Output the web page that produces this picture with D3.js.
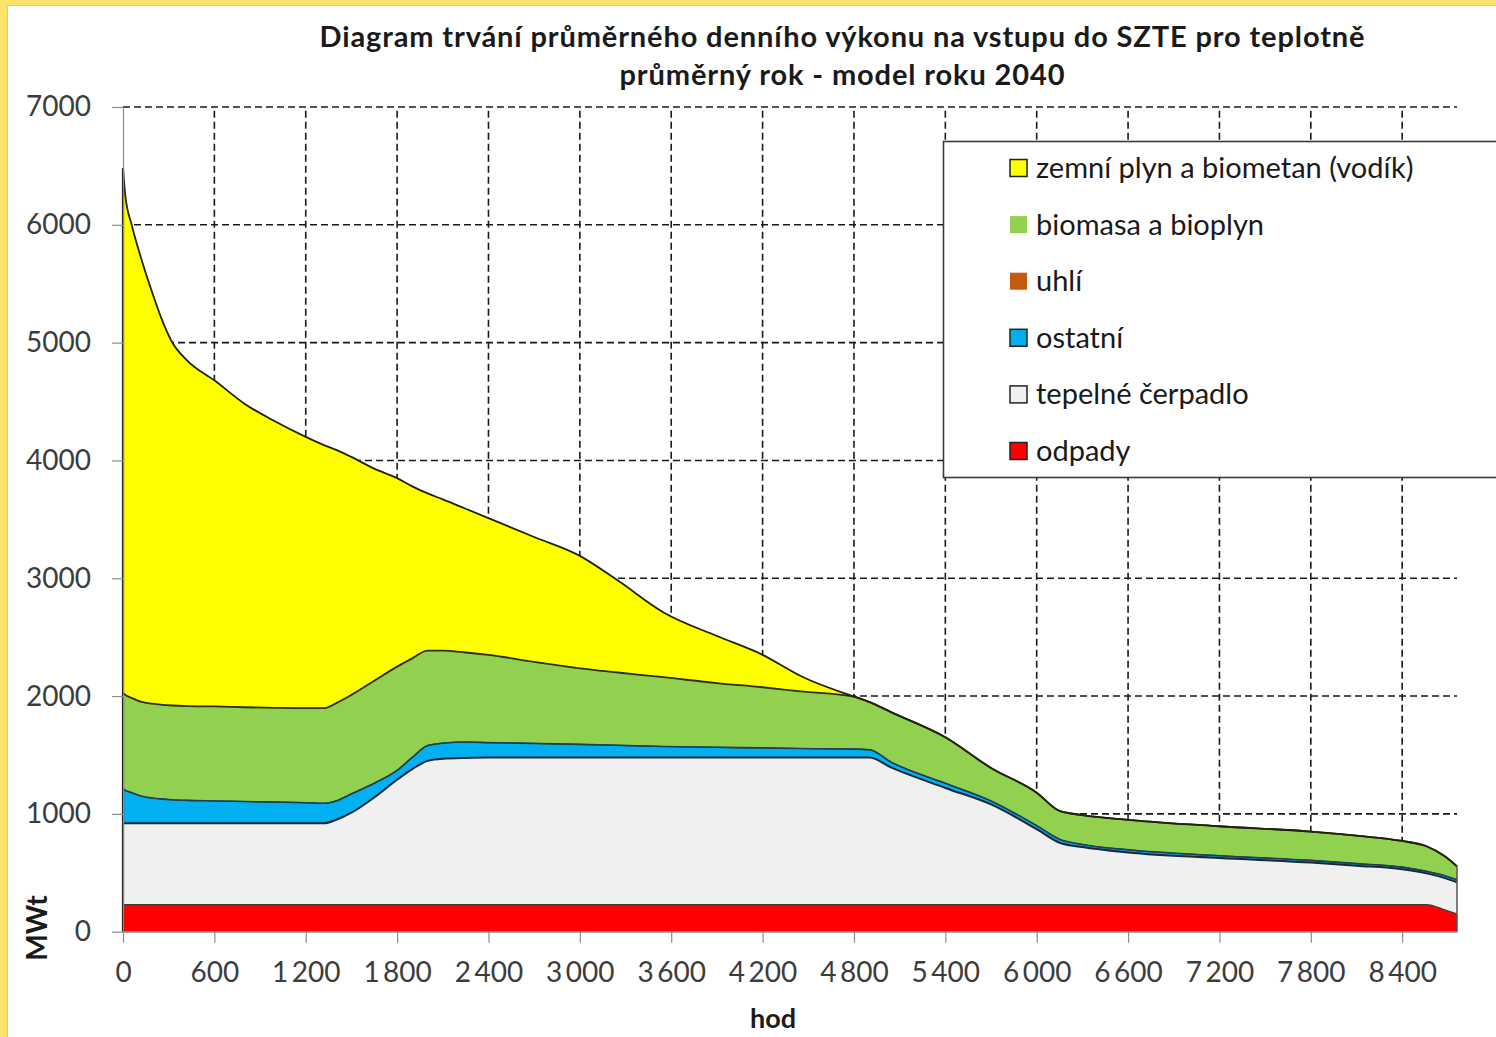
<!DOCTYPE html>
<html>
  <head>
    <meta charset="utf-8">
    <title>Diagram trvání výkonu SZTE 2040</title>
    <style>
      body { margin: 0; background: #fff; }
      svg text { font-family: Lato, "Open Sans", sans-serif; }
    </style>
  </head>
  <body>
    <svg width="1496" height="1037"></svg>

    <script src="https://d3js.org/d3.v7.min.js"></script>
    <script>

      // hodiny (osa x) a výkony jednotlivých zdrojů v MWt
      var hours = [0, 15, 57, 123, 188, 260, 320, 420, 600, 800, 1000, 1200, 1320, 1400, 1500, 1650, 1800, 1900, 2000, 2100,
        2250, 2400, 2700, 3000, 3250, 3550, 3900, 4200, 4450, 4800, 4900, 5050, 5400, 5700, 6000, 6150, 6300, 6600,
        7200, 7800, 8100, 8400, 8560, 8680, 8760];

      var odpady = [230, 230, 230, 230, 230, 230, 230, 230, 230, 230, 230, 230, 230, 230, 230, 230, 230, 230, 230, 230,
        230, 230, 230, 230, 230, 230, 230, 230, 230, 230, 230, 230, 230, 230, 230, 230, 230, 230,
        230, 230, 230, 230, 230, 185, 150];

      var tepelneCerpadlo = [690, 690, 690, 690, 690, 690, 690, 690, 690, 690, 690, 690, 690, 720, 780, 910, 1060, 1150, 1220, 1238,
        1245, 1248, 1248, 1248, 1248, 1248, 1248, 1248, 1248, 1248, 1248, 1160, 990, 850, 640, 525, 488, 442,
        395, 357, 330, 300, 265, 270, 270];

      var ostatni = [295, 280, 260, 230, 215, 205, 200, 195, 190, 185, 180, 175, 170, 160, 160, 120, 80, 100, 130, 132,
        135, 127, 120, 112, 104, 94, 87, 82, 77, 72, 67, 45, 40, 30, 30, 30, 22, 23,
        20, 18, 18, 18, 17, 20, 20];

      var uhli = [0, 0, 0, 0, 0, 0, 0, 0, 0, 0, 0, 0, 0, 0, 0, 0, 0, 0, 0, 0,
        0, 0, 0, 0, 0, 0, 0, 0, 0, 0, 0, 0, 0, 0, 0, 0, 0, 0,
        0, 0, 0, 0, 0, 0, 0];

      var biomasa = [815, 810, 805, 800, 800, 800, 800, 800, 802, 800, 800, 802, 807, 830, 840, 870, 880, 840, 805, 785,
        760, 745, 692, 645, 618, 588, 545, 515, 485, 445, 405, 425, 390, 280, 280, 240, 250, 255,
        250, 245, 237, 222, 213, 165, 115];

      var zemniPlyn = [4450, 4240, 4015, 3750, 3505, 3255, 3090, 2935, 2768, 2575, 2430, 2303, 2233, 2150, 2020, 1800, 1600, 1460, 1335, 1285,
        1220, 1160, 1060, 955, 780, 550, 400, 275, 130, 0, 0, 0, 0, 0, 0, 0, 0, 0,
        0, 0, 0, 0, 0, 0, 0];

      // pořadí vrstev zdola nahoru
      var keys = ["odpady", "tepelne", "ostatni", "uhli", "biomasa", "plyn"];
      var labels = {
        plyn: "zemní plyn a biometan (vodík)",
        biomasa: "biomasa a bioplyn",
        uhli: "uhlí",
        ostatni: "ostatní",
        tepelne: "tepelné čerpadlo",
        odpady: "odpady"
      };
      var colors = {
        plyn: "#ffff00",
        biomasa: "#92d050",
        uhli: "#c55a11",
        ostatni: "#00b0f0",
        tepelne: "#f0f0f0",
        odpady: "#ff0000"
      };

      var xTicks = [0, 600, 1200, 1800, 2400, 3000, 3600, 4200, 4800, 5400, 6000, 6600, 7200, 7800, 8400];
      var yTicks = [0, 1000, 2000, 3000, 4000, 5000, 6000, 7000];

      var data = hours.map(function (h, i) {
        return {
          hod: h,
          odpady: odpady[i],
          tepelne: tepelneCerpadlo[i],
          ostatni: ostatni[i],
          uhli: uhli[i],
          biomasa: biomasa[i],
          plyn: zemniPlyn[i]
        };
      });

      var series = d3.stack().keys(keys)(data);

      var svg = d3.select("svg"),
        width = +svg.attr("width"),
        height = +svg.attr("height");

      var x = d3.scaleLinear()
        .domain([0, 8760])
        .range([123, 1457]);

      var y = d3.scaleLinear()
        .domain([0, 7000])
        .range([931.7, 107]);

      // rámeček obrázku
      svg.append("rect")
        .attr("width", width).attr("height", height)
        .attr("fill", "#fff");
      svg.append("rect")
        .attr("x", 0).attr("y", 0).attr("width", 7).attr("height", height)
        .attr("fill", "#fde26c");
      svg.append("rect")
        .attr("x", 0).attr("y", 0).attr("width", width).attr("height", 5)
        .attr("fill", "#fde26c");
      svg.append("path")
        .attr("d", "M7.5," + height + "V5.5H" + width)
        .attr("fill", "none")
        .attr("stroke", "#c8c8c8")
        .attr("stroke-width", 1);

      // mřížka
      var grid = svg.append("g")
        .attr("stroke", "#1a1a1a")
        .attr("stroke-width", 1.6)
        .attr("stroke-dasharray", "7,4");

      grid.selectAll("line.h")
        .data(yTicks.filter(function (d) { return d > 0; }))
        .enter().append("line")
        .attr("class", "h")
        .attr("x1", x(0)).attr("x2", x(8760))
        .attr("y1", function (d) { return y(d); })
        .attr("y2", function (d) { return y(d); });

      grid.selectAll("line.v")
        .data(xTicks.filter(function (d) { return d > 0; }))
        .enter().append("line")
        .attr("class", "v")
        .attr("y1", y(0)).attr("y2", y(7000))
        .attr("x1", function (d) { return x(d); })
        .attr("x2", function (d) { return x(d); });

      // plochy
      var area = d3.area()
        .curve(d3.curveMonotoneX)
        .x(function (d) { return x(d.data.hod); })
        .y0(function (d) { return y(d[0]); })
        .y1(function (d) { return y(d[1]); });

      var line = d3.line()
        .curve(d3.curveMonotoneX)
        .x(function (d) { return x(d.data.hod); })
        .y(function (d) { return y(d[1]); });

      svg.append("g")
        .selectAll("path")
        .data(series)
        .enter().append("path")
        .attr("fill", function (d) { return colors[d.key]; })
        .attr("d", area);

      var lineStyle = {
        odpady: ["#3a3a3a", 1.2],
        tepelne: ["#1c2833", 2],
        ostatni: ["#1f3f55", 1.6],
        uhli: ["#1f3f55", 1.2],
        biomasa: ["#2a3010", 1.8],
        plyn: ["#22220e", 1.8]
      };

      svg.append("g")
        .selectAll("path")
        .data(series)
        .enter().append("path")
        .attr("fill", "none")
        .attr("stroke", function (d) { return lineStyle[d.key][0]; })
        .attr("stroke-width", function (d) { return lineStyle[d.key][1]; })
        .attr("stroke-linejoin", "round")
        .attr("d", line);

      var last = data.length - 1;
      var topSerie = series[series.length - 1];

      svg.append("line")
        .attr("x1", x(0)).attr("x2", x(0))
        .attr("y1", y(0)).attr("y2", y(topSerie[0][1]))
        .attr("stroke", "#1a1a1a")
        .attr("stroke-width", 2.2);

      svg.append("line")
        .attr("x1", x(8760)).attr("x2", x(8760))
        .attr("y1", y(0)).attr("y2", y(topSerie[last][1]))
        .attr("stroke", "#555")
        .attr("stroke-width", 1.5);

      // osy
      var yAxis = svg.append("g")
        .attr("transform", "translate(" + x(0) + ",0)")
        .call(d3.axisLeft(y).tickValues(yTicks).tickSize(11).tickSizeOuter(0).tickPadding(21)
          .tickFormat(d3.format("d")));

      var xAxis = svg.append("g")
        .attr("transform", "translate(0," + y(0) + ")")
        .call(d3.axisBottom(x).tickValues(xTicks).tickSize(11).tickSizeOuter(0).tickPadding(19)
          .tickFormat(function (d) { return d3.format(",")(d).replace(",", "\u2009"); }));

      [yAxis, xAxis].forEach(function (g) {
        g.select(".domain").attr("stroke", "#8c8c8c").attr("stroke-width", 1.2);
        g.selectAll(".tick line").attr("stroke", "#8c8c8c").attr("stroke-width", 1.2);
        g.selectAll(".tick text")
          .attr("fill", "#3c3c3c")
          .style("font-size", "28px")
          .style("font-family", "Lato, sans-serif");
      });

      // legenda
      var legend = svg.append("g");
      legend.append("rect")
        .attr("x", 943.5).attr("y", 141.5)
        .attr("width", 700).attr("height", 336)
        .attr("fill", "#fff")
        .attr("stroke", "#3a3a3a")
        .attr("stroke-width", 1.6);

      var legendKeys = keys.slice().reverse();
      var item = legend.selectAll("g.item")
        .data(legendKeys)
        .enter().append("g")
        .attr("class", "item")
        .attr("transform", function (d, i) { return "translate(1010," + (168 + i * 56.6) + ")"; });

      item.append("rect")
        .attr("x", 0).attr("y", -8.5)
        .attr("width", 17).attr("height", 17)
        .attr("fill", function (d) { return colors[d]; })
        .attr("stroke", function (d) { return (d === "biomasa" || d === "uhli") ? "none" : "#222"; })
        .attr("stroke-width", 1.5);

      item.append("text")
        .attr("x", 26)
        .attr("y", 10)
        .attr("fill", "#1a1a1a")
        .style("font-size", "29px")
        .text(function (d) { return labels[d]; });

      // nadpis a popisky os
      svg.append("text")
        .attr("x", 842).attr("y", 47)
        .attr("text-anchor", "middle")
        .attr("textLength", 1045)
        .attr("lengthAdjust", "spacing")
        .attr("fill", "#1a1a1a")
        .style("font-size", "29px")
        .style("font-weight", "bold")
        .text("Diagram trvání průměrného denního výkonu na vstupu do SZTE pro teplotně");

      svg.append("text")
        .attr("x", 842).attr("y", 85)
        .attr("text-anchor", "middle")
        .attr("textLength", 445)
        .attr("lengthAdjust", "spacing")
        .attr("fill", "#1a1a1a")
        .style("font-size", "29px")
        .style("font-weight", "bold")
        .text("průměrný rok - model roku 2040");

      svg.append("text")
        .attr("transform", "translate(47,928) rotate(-90)")
        .attr("text-anchor", "middle")
        .attr("fill", "#1a1a1a")
        .style("font-size", "28px")
        .style("font-weight", "bold")
        .text("MWt");

      svg.append("text")
        .attr("x", 773).attr("y", 1028)
        .attr("text-anchor", "middle")
        .attr("fill", "#1a1a1a")
        .style("font-size", "27px")
        .style("font-weight", "bold")
        .text("hod");

    </script>
  </body>
</html>
